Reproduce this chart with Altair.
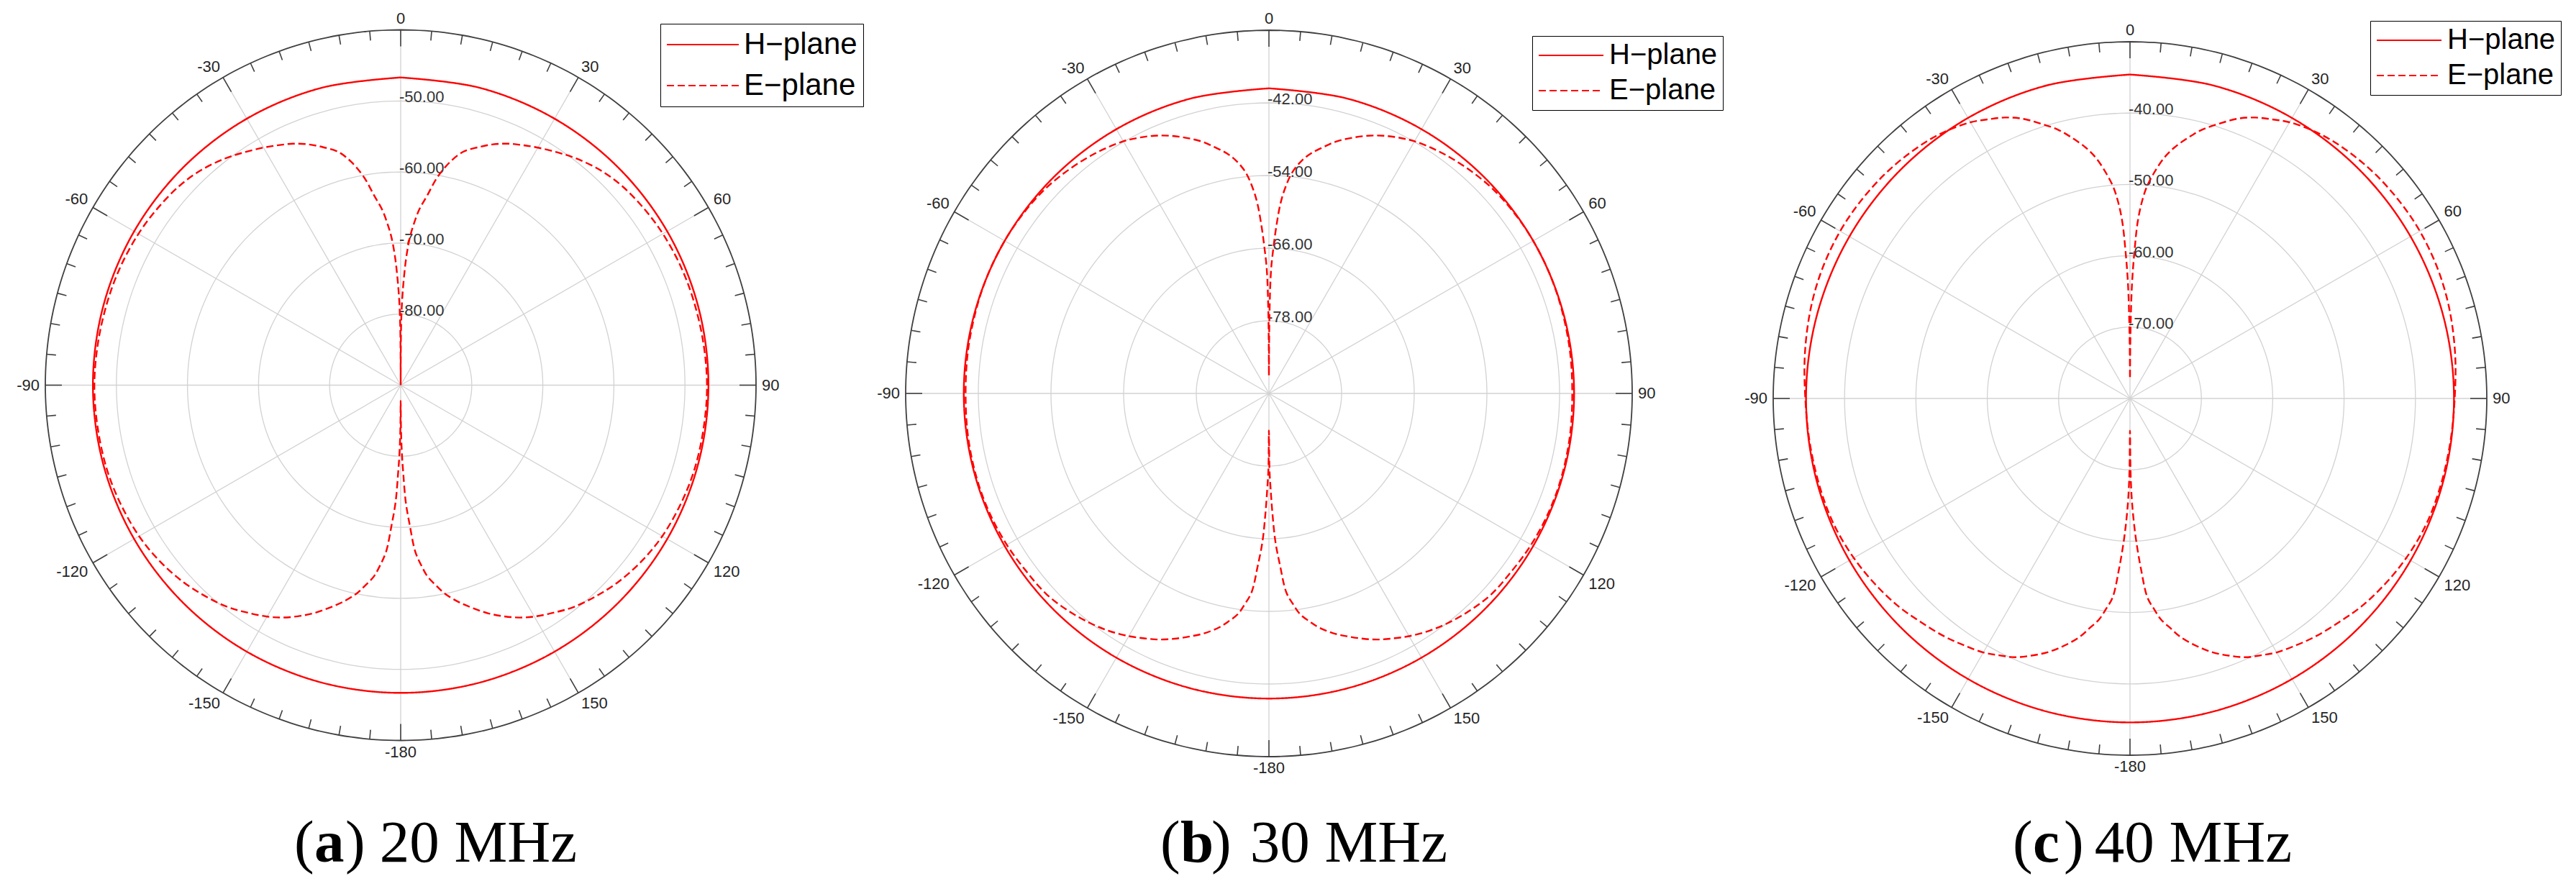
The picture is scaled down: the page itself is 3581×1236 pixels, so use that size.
import altair as alt
import pandas as pd

# ---------------- data ----------------
# angle (deg, clockwise from top) for the right half of each E-plane pattern
THETA = [0, 0.4, 1, 1.7, 2.5, 3.5, 4.5, 6, 8, 10, 12.5, 15, 18, 21, 24, 27, 30, 34, 38, 43,
         48, 54, 60, 67, 74, 82, 90,
         98, 106, 113, 120, 126, 132, 137, 142, 146, 150, 153, 156, 159, 162, 165, 168, 170,
         172, 173.5, 175, 176.3, 177.5, 178.3, 179, 179.6, 180]

# E-plane gain (dB) at THETA, panel (a) 20 MHz
E_A = [-90, -82, -78, -75, -72, -69.3, -67.5, -65.2, -63, -60.3, -57.8, -56.0, -54.8, -53.7,
       -52.8, -52.1, -51.4, -50.5, -49.6, -48.7, -48.1, -47.7, -47.4, -47.2, -47.1, -47.0, -46.9,
       -46.95, -47.0, -47.2, -47.5, -48.0, -48.7, -49.5, -50.4, -51.4, -52.4, -53.3, -54.4, -55.6,
       -57.0, -58.4, -60.0, -61.4, -62.8, -64.5, -66.5, -70.3, -73.5, -77.5, -80.5, -84, -87.8]
# panel (b) 30 MHz
E_B = [-87, -77, -69.5, -66.2, -62.5, -58.5, -56.0, -53.3, -51.2, -49.7, -48.3, -46.9, -45.6,
       -44.4, -43.4, -42.6, -41.9, -41.3, -40.8, -40.3, -39.9, -39.7, -39.6, -39.6, -39.7, -39.8,
       -39.9,
       -39.8, -39.75, -39.8, -40.0, -40.3, -40.5, -41.1, -41.9, -42.7, -43.7, -44.6, -45.5, -46.6,
       -47.8, -49.0, -50.5, -51.8, -53.2, -55.0, -57.0, -61.5, -65.5, -70.0, -74.3, -77.5, -83.9]
# panel (c) 40 MHz
E_C = [-77, -71, -64, -59.6, -55.2, -52.3, -50.3, -48.3, -46.0, -44.3, -42.6, -41.0, -39.5,
       -38.0, -36.9, -36.1, -35.3, -34.6, -34.1, -33.7, -33.4, -33.2, -33.1, -33.2, -33.5, -34.0,
       -34.5,
       -34.7, -34.8, -34.9, -35.3, -35.8, -36.4, -37.1, -37.7, -38.3, -38.9, -39.6, -40.3, -41.4,
       -42.6, -44.1, -45.8, -47.3, -48.7, -50.3, -52.0, -56.0, -60.0, -63.0, -66.0, -70.0, -75.5]

# H-plane gain (dB), read every 15 degrees
H_THETA = [0, 15, 30, 45, 60, 75, 90, 105, 120, 135, 150, 165, 180, 195, 210, 225, 240, 255,
           270, 285, 300, 315, 330, 345, 360]
H_A = [-46.7, -46.7, -46.7, -46.7, -46.7, -46.7, -46.7, -46.7, -46.7, -46.7, -46.7, -46.7, -46.7,
       -46.7, -46.7, -46.7, -46.7, -46.7, -46.7, -46.7, -46.7, -46.7, -46.7, -46.7, -46.7]
H_B = [-39.6, -39.6, -39.6, -39.6, -39.6, -39.6, -39.6, -39.6, -39.6, -39.6, -39.6, -39.6, -39.6,
       -39.6, -39.6, -39.6, -39.6, -39.6, -39.6, -39.6, -39.6, -39.6, -39.6, -39.6, -39.6]
H_C = [-34.6, -34.6, -34.6, -34.6, -34.6, -34.6, -34.6, -34.6, -34.6, -34.6, -34.6, -34.6, -34.6,
       -34.6, -34.6, -34.6, -34.6, -34.6, -34.6, -34.6, -34.6, -34.6, -34.6, -34.6, -34.6]

SERIES = ["H\u2212plane", "E\u2212plane"]
ANGLE_TICKS = [0, 30, 60, 90, 120, 150, -180, -150, -120, -90, -60, -30]
ANGLE_LABELS = ["0", "30", "60", "90", "120", "150", "-180", "-150", "-120", "-90", "-60", "-30"]
RINGS_A = [-80, -70, -60, -50]
RINGS_B = [-78, -66, -54, -42]
RINGS_C = [-70, -60, -50, -40]
CAPTION_LETTERS = ["a", "b", "c"]
CAPTION_TEXT = ["20 MHz", "30 MHz", "40 MHz"]

# ---------------- layout / style ----------------
PAGE_TOP = 8
PANEL_H = 1220
RED = "#ff0000"
DARK = "#404040"
GRID = "#d2d2d2"

PANELS = [
    dict(E=E_A, H=H_A, rings=RINGS_A, lo=-90, hi=-40, R=494, cx=557, cy=535.5, left=8, width=1205,
         lx=910, ly=25, lfs=42, lsize=1600, loff=66, lrow=15, lpad=8,
         letter=CAPTION_LETTERS[0], cap=CAPTION_TEXT[0], capL=409, capR=802),
    dict(E=E_B, H=H_B, rings=RINGS_B, lo=-90, hi=-30, R=505, cx=1764, cy=547, left=1213, width=1200,
         lx=917, ly=42, lfs=40, lsize=1296, loff=60, lrow=9, lpad=7,
         letter=CAPTION_LETTERS[1], cap=CAPTION_TEXT[1], capL=1613, capR=2012),
    dict(E=E_C, H=H_C, rings=RINGS_C, lo=-80, hi=-30, R=496, cx=2961, cy=554, left=2413, width=1160,
         lx=882, ly=21, lfs=40, lsize=1296, loff=60, lrow=9, lpad=7,
         letter=CAPTION_LETTERS[2], cap=CAPTION_TEXT[2], capL=2798, capR=3186),
]
CAP_BASE = 1198
CAP_FS = 83


def make_panel(p):
    R, lo, hi = p["R"], p["lo"], p["hi"]
    span = hi - lo
    x0 = p["cx"] - p["left"]
    y0 = p["cy"] - PAGE_TOP
    xs = alt.Scale(domain=[-x0 / R, (p["width"] - x0) / R], nice=False, zero=False)
    ys = alt.Scale(domain=[-(PANEL_H - y0) / R, y0 / R], nice=False, zero=False)

    def X(f):
        return alt.X(f, type="quantitative", scale=xs, axis=None)

    def Y(f):
        return alt.Y(f, type="quantitative", scale=ys, axis=None)

    rho = f"max(0, (datum.db - ({lo})) / {span})"
    sx = "datum.rho * sin(datum.theta * PI / 180)"
    sy = "datum.rho * cos(datum.theta * PI / 180)"

    # curves
    rows = []
    i = 0
    for t, v in zip(THETA, p["E"]):
        rows.append({"series": SERIES[1], "theta": t, "db": v, "i": i}); i += 1
    for t, v in zip(reversed(THETA[:-1]), reversed(p["E"][:-1])):
        rows.append({"series": SERIES[1], "theta": -t, "db": v, "i": i}); i += 1
    for j, (t, v) in enumerate(zip(H_THETA, p["H"])):
        rows.append({"series": SERIES[0], "theta": t, "db": v, "i": j})
    curves_df = pd.DataFrame(rows)

    legend = alt.Legend(
        title=None, orient="none", legendX=p["lx"], legendY=p["ly"],
        padding=p["lpad"], rowPadding=p["lrow"], strokeColor="#000000", fillColor="#ffffff",
        labelFont="Liberation Sans", labelFontSize=p["lfs"], labelColor="#000000",
        labelLimit=500, labelOffset=p["loff"], symbolType="M-1,0H4", symbolSize=p["lsize"],
        symbolStrokeWidth=2, symbolStrokeColor=RED,
    )
    curves = alt.Chart(curves_df).transform_calculate(rho=rho).transform_calculate(
        px=sx, py=sy
    ).mark_line(color=RED, strokeWidth=2.4, interpolate="catmull-rom").encode(
        x=X("px"), y=Y("py"),
        strokeDash=alt.StrokeDash("series:N", scale=alt.Scale(domain=SERIES, range=[[1, 0], [10, 5]]),
                                  legend=legend),
        order=alt.Order("i:Q"),
    )

    # grid rings
    ring_rows = []
    for lev in p["rings"]:
        for k, t in enumerate(range(0, 361, 3)):
            ring_rows.append({"db": lev, "theta": t, "k": k})
    rings = alt.Chart(pd.DataFrame(ring_rows)).transform_calculate(rho=rho).transform_calculate(
        px=sx, py=sy
    ).mark_line(color=GRID, strokeWidth=1.3, interpolate="catmull-rom").encode(
        x=X("px"), y=Y("py"), detail="db:N", order="k:Q"
    )

    # spokes
    spokes = alt.Chart(pd.DataFrame({"theta": list(range(0, 360, 30))})).transform_calculate(
        z="0", ex="sin(datum.theta * PI / 180)", ey="cos(datum.theta * PI / 180)"
    ).mark_rule(color=GRID, strokeWidth=1.3).encode(
        x=X("z"), y=Y("z"), x2="ex:Q", y2="ey:Q"
    )

    # outer circle
    outer = alt.Chart(pd.DataFrame({"theta": list(range(0, 361, 2)), "db": [hi] * 181,
                                    "k": list(range(181))})).transform_calculate(
        rho=rho).transform_calculate(px=sx, py=sy).mark_line(
        color=DARK, strokeWidth=1.8, interpolate="catmull-rom").encode(
        x=X("px"), y=Y("py"), order="k:Q")

    # ticks (every 5 deg, longer every 30 deg)
    tick_df = pd.DataFrame({"theta": list(range(0, 360, 5))})
    ticks = alt.Chart(tick_df).transform_calculate(
        ln=f"(datum.theta % 30 == 0 ? 23 : 13) / {R}"
    ).transform_calculate(
        ax="sin(datum.theta * PI / 180)", ay="cos(datum.theta * PI / 180)",
        bx="(1 - datum.ln) * sin(datum.theta * PI / 180)",
        by="(1 - datum.ln) * cos(datum.theta * PI / 180)",
    ).mark_rule(color=DARK, strokeWidth=1.6).encode(
        x=X("ax"), y=Y("ay"), x2="bx:Q", y2="by:Q"
    )

    # angle labels
    ang_df = pd.DataFrame({"theta": ANGLE_TICKS, "lab": ANGLE_LABELS})
    ang = alt.Chart(ang_df).transform_calculate(
        tw="(length(datum.lab) - (datum.theta < 0 ? 1 : 0)) * 12.23 + (datum.theta < 0 ? 7.33 : 0)",
        sgx="(datum.theta > 0 && datum.theta < 180) ? 1 : ((datum.theta < 0 && datum.theta > -180) ? -1 : 0)",
        sgy="abs(datum.theta) < 90 ? 1 : (abs(datum.theta) > 90 ? -1 : 0)",
    ).transform_calculate(
        lx=f"(({R} + 8) * sin(datum.theta * PI / 180) + datum.sgx * datum.tw / 2) / {R}",
        ly=f"(({R} + 8) * cos(datum.theta * PI / 180) + datum.sgy * 8) / {R}",
    ).mark_text(font="Liberation Sans", fontSize=22, color="#262626", align="center",
                baseline="middle").encode(x=X("lx"), y=Y("ly"), text="lab:N")

    # radial labels
    rl_df = pd.DataFrame({"db": p["rings"], "lab": [f"{v:.2f}" for v in p["rings"]]})
    rlab = alt.Chart(rl_df).transform_calculate(
        rho=rho).transform_calculate(
        lx=f"-2 / {R}", ly=f"datum.rho + 5 / {R}"
    ).mark_text(font="Liberation Sans", fontSize=22, color="#333333", align="left",
                baseline="middle").encode(x=X("lx"), y=Y("ly"), text="lab:N")

    # caption: "(" + bold letter + ")" then the frequency
    cap_df = pd.DataFrame({"xl": [(p["capL"] - p["cx"]) / R], "xr": [(p["capR"] - p["cx"]) / R],
                           "yb": [(p["cy"] - CAP_BASE) / R]})
    capbase = alt.Chart(cap_df)
    cap1 = capbase.mark_text(text="(", font="Liberation Serif", fontSize=CAP_FS, color="#000000",
                             align="left", baseline="alphabetic").encode(x=X("xl"), y=Y("yb"))
    cap2 = capbase.mark_text(text=p["letter"], font="Liberation Serif", fontWeight="bold",
                             fontSize=CAP_FS, color="#000000", align="left", dx=28,
                             baseline="alphabetic").encode(x=X("xl"), y=Y("yb"))
    cap3 = capbase.mark_text(text=")", font="Liberation Serif", fontSize=CAP_FS, color="#000000",
                             align="left", dx=71, baseline="alphabetic").encode(x=X("xl"), y=Y("yb"))
    cap4 = capbase.mark_text(text=p["cap"], font="Liberation Serif", fontSize=CAP_FS,
                             color="#000000", align="right",
                             baseline="alphabetic").encode(x=X("xr"), y=Y("yb"))

    return alt.layer(rings, spokes, outer, ticks, ang, rlab, curves, cap1, cap2, cap3, cap4).properties(
        width=p["width"], height=PANEL_H)


chart = alt.hconcat(*[make_panel(p) for p in PANELS], spacing=0).resolve_scale(
    strokeDash="independent").resolve_legend(strokeDash="independent").properties(
    padding=0, background="#ffffff").configure_view(strokeWidth=0)

chart.save("out.html", embed_options={"renderer": "svg", "actions": False})
